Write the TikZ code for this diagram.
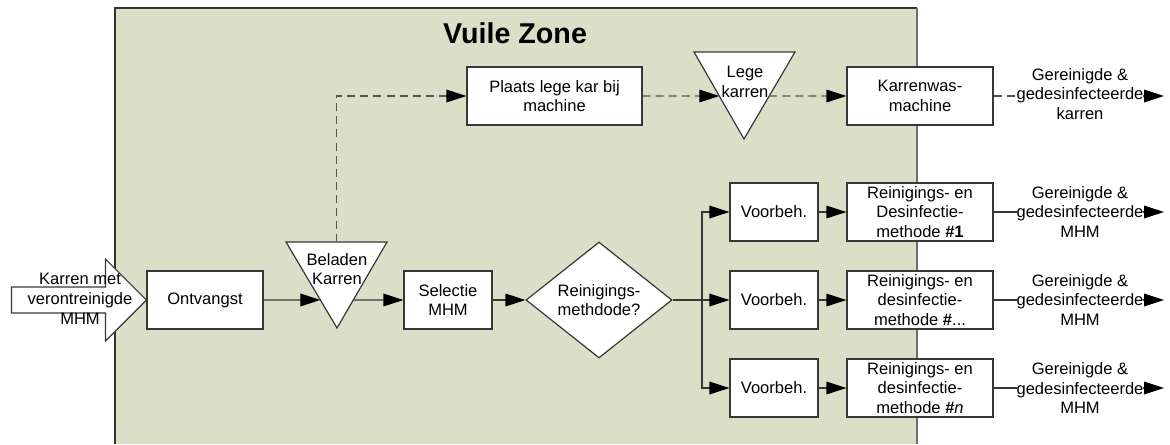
\documentclass[tikz,border=0pt]{standalone}
\usepackage{fontspec}
\setmainfont{Liberation Sans}
\usetikzlibrary{shapes.geometric,arrows.meta,calc}
\definecolor{zonefill}{RGB}{220,223,200}
\definecolor{linec}{RGB}{55,55,55}
\definecolor{dashc}{RGB}{85,85,85}
\definecolor{zoneedge}{RGB}{50,50,50}
\definecolor{zoneright}{RGB}{110,110,110}
\begin{document}
\begin{tikzpicture}[x=0.75pt,y=-0.75pt,
  font=\fontsize{12.4}{14.8}\selectfont,
  box/.style={draw=linec, fill=white, line width=0.9pt, align=center, inner sep=0pt, minimum height=43.5pt},
  conn/.style={draw=linec, line width=0.9pt, -{Triangle[length=15pt,width=9.5pt,color=black]}},
  dconn/.style={conn, draw=dashc, dash pattern=on 6pt off 3.8pt},
  plain/.style={draw=linec, line width=0.9pt},
  shapefill/.style={draw=linec, fill=white, line width=0.9pt},
  lab/.style={align=center, inner sep=0pt},
  outlab/.style={align=center, inner sep=0pt, fill=white}]
\useasboundingbox (0,0) rectangle (1170,444);
% zone
\fill[zonefill] (115,8) rectangle (917,444);
\draw[zoneedge, line width=1.5pt] (115,444) -- (115,8) -- (917,8);
\draw[zoneright, line width=1.5pt] (917,8) -- (917,444);
\node[font=\bfseries\fontsize{21.5}{24}\selectfont] (title) at (515,33) {Vuile Zone};

% input
\node[box, minimum width=87pt] (ont) at (205,300) {Ontvangst};
\draw[shapefill] (ont.west) -- ++(-41,-41) -- ++(0,28) -- ++(-94,0) -- ++(0,26) -- ++(94,0) -- ++(0,28) -- cycle;
\node[lab] (inlab) at (80,299) {Karren met\\verontreinigde\\MHM};

% beladen karren
\coordinate (t1a) at (286,242);
\coordinate (t1b) at (387,242);
\coordinate (t1c) at (337,328);
\draw[shapefill] (t1a) -- (t1b) -- (t1c) -- cycle;
\node[lab] (t1) at (337,269) {Beladen\\Karren};
\coordinate (t1in) at ($(t1a)!0.674!(t1c)$);
\coordinate (t1out) at ($(t1b)!0.674!(t1c)$);
\coordinate (t1top) at ($(t1a)!0.5!(t1b)$);
\draw[conn] (ont.east) -- (t1in);

\node[box, minimum width=66pt] (sel) at (448,300) {Selectie\\MHM};
\draw[conn] (t1out) -- (sel.west);

\node[diamond, shapefill, minimum width=109.5pt, minimum height=87pt, inner sep=0pt, align=center] (dia) at (599,300) {Reinigings-\\methdode?};
\draw[conn] (sel.east) -- (dia.west);
\coordinate (br) at (702,300);
\draw[plain] (dia.east) -- (br);

% rows
\node[box, minimum width=66pt] (vb1) at (774,212) {Voorbeh.};
\node[box, minimum width=66pt] (vb2) at (774,300) {Voorbeh.};
\node[box, minimum width=66pt] (vb3) at (774,388) {Voorbeh.};
\draw[conn] (br) |- (vb1.west);
\draw[conn] (br) -- (vb2.west);
\draw[conn] (br) |- (vb3.west);

\node[box, minimum width=109.5pt] (rd1) at (920,212) {Reinigings- en\\Desinfectie-\\methode \textbf{\#1}};
\node[box, minimum width=109.5pt] (rd2) at (920,300) {Reinigings- en\\desinfectie-\\methode \textbf{\#}...};
\node[box, minimum width=109.5pt] (rd3) at (920,388) {Reinigings- en\\desinfectie-\\methode \textbf{\#}\textit{n}};
\draw[conn] (vb1.east) -- (rd1.west);
\draw[conn] (vb2.east) -- (rd2.west);
\draw[conn] (vb3.east) -- (rd3.west);

\coordinate (o1) at (1164,212);
\coordinate (o2) at (1164,300);
\coordinate (o3) at (1164,388);
\draw[conn] (rd1.east) -- (o1);
\draw[conn] (rd2.east) -- (o2);
\draw[conn] (rd3.east) -- (o3);
\node[outlab] (l1) at (1080,212) {Gereinigde \&\\gedesinfecteerde\\MHM};
\node[outlab] (l2) at (1080,300) {Gereinigde \&\\gedesinfecteerde\\MHM};
\node[outlab] (l3) at (1080,388) {Gereinigde \&\\gedesinfecteerde\\MHM};

% top row
\node[box, minimum width=131.25pt] (pl) at (554.5,96) {Plaats lege kar bij\\machine};
\draw[dconn] (t1top) |- (pl.west);

\coordinate (t2a) at (694,52);
\coordinate (t2b) at (795,52);
\coordinate (t2c) at (744,139);
\draw[shapefill] (t2a) -- (t2b) -- (t2c) -- cycle;
\node[lab] (t2) at (745,82) {Lege\\karren};
\coordinate (t2in) at ($(t2a)!0.506!(t2c)$);
\coordinate (t2out) at ($(t2b)!0.506!(t2c)$);
\draw[dconn] (pl.east) -- (t2in);

\node[box, minimum width=109.5pt] (kw) at (920,96) {Karrenwas-\\machine};
\draw[dconn] (t2out) -- (kw.west);
\coordinate (o0) at (1164,96);
\draw[dconn] (kw.east) -- (o0);
\node[outlab] (l0) at (1080,94) {Gereinigde \&\\gedesinfecteerde\\karren};
\end{tikzpicture}
\end{document}
